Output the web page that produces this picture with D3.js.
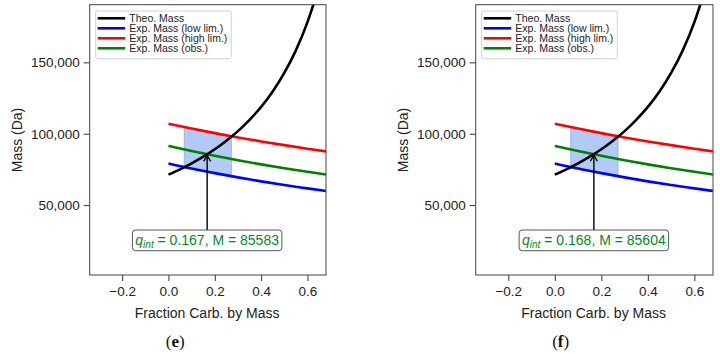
<!DOCTYPE html>
<html>
<head>
<meta charset="utf-8">
<script src="https://cdn.jsdelivr.net/npm/d3@7"></script>
<style>
  body { margin: 0; background: #fff; }
  text { font-family: "Liberation Sans", Arial, sans-serif; }
</style>
</head>
<body>
<script>
// Data (mass in Da vs. carbohydrate mass fraction)
var qTheo = [0, 0.05, 0.1, 0.15, 0.2, 0.25, 0.3, 0.35, 0.4, 0.45, 0.5, 0.55, 0.6, 0.63];
var massTheo = [71300, 75000, 79200, 83900, 89100, 95100, 101800, 109700, 118800, 129600, 142600, 158400, 178200, 192700];

var qExp = [0, 0.1, 0.2, 0.3, 0.4, 0.5, 0.6, 0.68];
var massLow = [79200, 75600, 72400, 69400, 66600, 64000, 61700, 59900];
var massHigh = [107000, 103600, 100400, 97400, 94600, 92000, 89500, 87600];
var massObs = [91500, 87900, 84500, 81400, 78500, 75800, 73300, 71400];

// shaded band between low and high limit where theo curve lies inside
var qBand = [0.068, 0.1, 0.15, 0.2, 0.25, 0.272];
var bandLow = [76900, 75600, 74000, 72400, 70900, 70200];
var bandHigh = [104600, 103600, 102000, 100400, 98800, 98200];

var panelLabels = ["e", "f"];
var qInt = [0.167, 0.168];
var massInt = [85583, 85604];

var xTicks = [-0.2, 0.0, 0.2, 0.4, 0.6];
var yTicks = [50000, 100000, 150000];
var legendNames = ["Theo. Mass", "Exp. Mass (low lim.)", "Exp. Mass (high lim.)", "Exp. Mass (obs.)"];
var legendColors = ["#000000", "#0000ff", "#ff0000", "#008000"];

var width = 720, height = 354;
var svg = d3.select("body").append("svg")
    .attr("width", width)
    .attr("height", height);

// panel frames (left, right) in pixels
var frames = [[89.7, 326], [475.7, 713]];
var plotTop = 4.7, plotBottom = 275;

function drawPanel(p) {
    var g = svg.append("g");
    var xScale = d3.scaleLinear().domain([-0.34, 0.68]).range(frames[p]);
    var yScale = d3.scaleLinear().domain([1000, 190400]).range([plotBottom, plotTop]);

    var clipId = "clip" + p;
    g.append("clipPath").attr("id", clipId)
        .append("rect")
        .attr("x", frames[p][0]).attr("y", plotTop)
        .attr("width", frames[p][1] - frames[p][0])
        .attr("height", plotBottom - plotTop);

    var plot = g.append("g").attr("clip-path", "url(#" + clipId + ")");

    // shaded band
    var area = d3.area()
        .x(function(d, i) { return xScale(qBand[i]); })
        .y0(function(d, i) { return yScale(bandLow[i]); })
        .y1(function(d, i) { return yScale(bandHigh[i]); })
        .curve(d3.curveMonotoneX);
    plot.append("path")
        .datum(qBand)
        .attr("d", area)
        .attr("fill", "#6495ed")
        .attr("fill-opacity", 0.5)
        .attr("stroke", "#6495ed")
        .attr("stroke-opacity", 0.5)
        .attr("stroke-width", 1);

    var line = function(qs) {
        return d3.line()
            .x(function(d, i) { return xScale(qs[i]); })
            .y(function(d) { return yScale(d); })
            .curve(d3.curveMonotoneX);
    };

    var series = [[qTheo, massTheo], [qExp, massLow], [qExp, massHigh], [qExp, massObs]];
    // draw order: low, high, obs, then theo on top
    [1, 2, 3, 0].forEach(function(k) {
        plot.append("path")
            .datum(series[k][1])
            .attr("d", line(series[k][0]))
            .attr("fill", "none")
            .attr("stroke", legendColors[k])
            .attr("stroke-width", 2.6);
    });

    // axes
    var xAxis = d3.axisBottom(xScale).tickValues(xTicks).tickSize(6).tickPadding(5)
        .tickFormat(function(d) { return d3.format(".1f")(d).replace("-", "\u2212"); });
    var yAxis = d3.axisLeft(yScale).tickValues(yTicks).tickSize(6).tickPadding(4)
        .tickFormat(d3.format(","));

    var gx = g.append("g").attr("transform", "translate(0," + plotBottom + ")").call(xAxis);
    var gy = g.append("g").attr("transform", "translate(" + frames[p][0] + ",0)").call(yAxis);
    [gx, gy].forEach(function(a) {
        a.select(".domain").remove();
        a.selectAll(".tick line").attr("stroke", "#333").attr("stroke-width", 1);
        a.selectAll(".tick text").attr("font-size", "13.5px").attr("fill", "#222")
            .style("font-family", "Liberation Sans, Arial, sans-serif");
    });

    // frame
    g.append("rect")
        .attr("x", frames[p][0]).attr("y", plotTop)
        .attr("width", frames[p][1] - frames[p][0])
        .attr("height", plotBottom - plotTop)
        .attr("fill", "none")
        .attr("stroke", "#444")
        .attr("stroke-width", 1);

    // axis labels
    g.append("text")
        .attr("x", xScale(0.167)).attr("y", 318)
        .attr("text-anchor", "middle")
        .attr("font-size", "14px").attr("fill", "#222")
        .text("Fraction Carb. by Mass");
    g.append("text")
        .attr("transform", "translate(" + (frames[p][0] - 68) + "," + 140 + ") rotate(-90)")
        .attr("text-anchor", "middle")
        .attr("font-size", "14px").attr("fill", "#222")
        .text("Mass (Da)");

    // legend
    var lx = frames[p][0] + 6, ly = 11;
    g.append("rect")
        .attr("x", lx).attr("y", ly)
        .attr("width", 135.5).attr("height", 47.7)
        .attr("rx", 2)
        .attr("fill", "#fff").attr("fill-opacity", 0.85)
        .attr("stroke", "#d0d0d0");
    legendNames.forEach(function(name, i) {
        var yy = ly + 7.3 + i * 10;
        g.append("line")
            .attr("x1", lx + 2).attr("x2", lx + 29.5)
            .attr("y1", yy).attr("y2", yy)
            .attr("stroke", legendColors[i]).attr("stroke-width", 2.6);
        g.append("text")
            .attr("x", lx + 33.6).attr("y", yy + 3.7)
            .attr("font-size", "10.5px").attr("fill", "#222")
            .text(name);
    });

    // annotation arrow
    var ax = xScale(qInt[p]), ay = yScale(massInt[p]);
    var boxTop = 230;
    g.append("line")
        .attr("x1", ax).attr("y1", boxTop)
        .attr("x2", ax).attr("y2", ay + 1)
        .attr("stroke", "#000").attr("stroke-width", 1.4);
    g.append("path")
        .attr("d", "M" + (ax - 3.5) + "," + (ay + 7) + "L" + ax + "," + (ay + 1) + "L" + (ax + 3.5) + "," + (ay + 7))
        .attr("fill", "none").attr("stroke", "#000").attr("stroke-width", 1.4);

    // annotation box + text
    var bw = 149.5, bh = 20.7;
    g.append("rect")
        .attr("x", ax - bw / 2).attr("y", boxTop)
        .attr("width", bw).attr("height", bh)
        .attr("rx", 3)
        .attr("fill", "#fff")
        .attr("stroke", "#555").attr("stroke-width", 1);
    var t = g.append("text")
        .attr("x", ax).attr("y", boxTop + 15)
        .attr("text-anchor", "middle")
        .attr("font-size", "14px").attr("fill", "#008a1e");
    t.append("tspan").attr("font-style", "italic").text("q");
    t.append("tspan").attr("font-style", "italic").attr("font-size", "10px").attr("dy", 3).text("int");
    t.append("tspan").attr("dy", -3).text(" = " + qInt[p].toFixed(3) + ", M = " + massInt[p]);

    // panel caption
    var cap = g.append("text")
        .attr("x", xScale(0.167) - 32 + (p === 0 ? 0 : -1)).attr("y", 347)
        .attr("text-anchor", "middle")
        .attr("font-size", "17px").attr("fill", "#111")
        .style("font-family", "Liberation Serif, Times New Roman, serif");
    cap.append("tspan").text("(");
    cap.append("tspan").attr("font-weight", "bold").text(panelLabels[p]);
    cap.append("tspan").text(")");
}

drawPanel(0);
drawPanel(1);
</script>
</body>
</html>
